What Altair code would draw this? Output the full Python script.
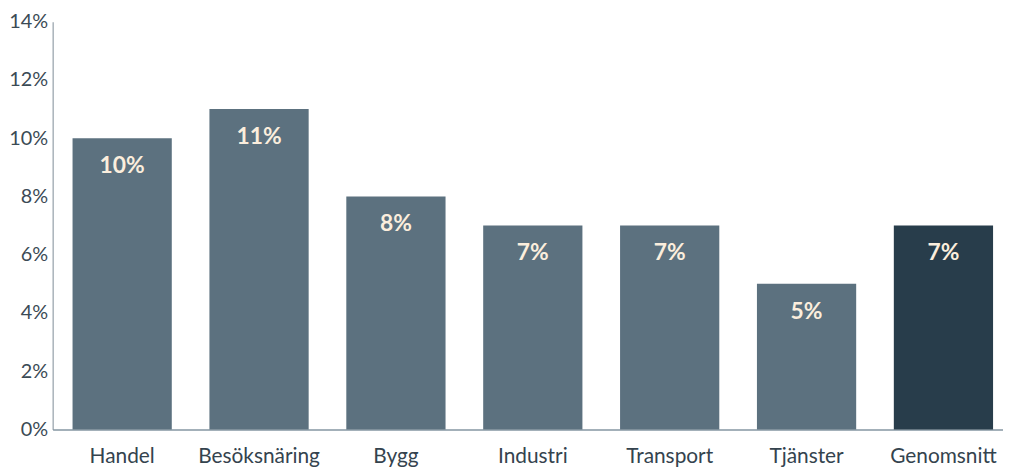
import altair as alt
import pandas as pd

categories = ["Handel", "Besöksnäring", "Bygg", "Industri", "Transport", "Tjänster", "Genomsnitt"]
values = [0.10, 0.11, 0.08, 0.07, 0.07, 0.05, 0.07]
labels = ["10%", "11%", "8%", "7%", "7%", "5%", "7%"]
groups = ["sector", "sector", "sector", "sector", "sector", "sector", "avg"]

df = pd.DataFrame({"cat": categories, "val": values, "lab": labels, "grp": groups})

base = alt.Chart(df).encode(
    x=alt.X("cat:N", sort=None, title=None,
            scale=alt.Scale(paddingInner=0.275, paddingOuter=0.109, align=0.667),
            axis=alt.Axis(labelAngle=0, ticks=False, labelPadding=16, labelFontSize=21,
                          labelColor="#34434e", labelFont="Lato", labelFontWeight=400,
                          domainColor="#a3b0b9", domainWidth=2)),
    y=alt.Y("val:Q", title=None,
            scale=alt.Scale(domain=[0, 0.14], nice=False),
            axis=alt.Axis(format=".0%", values=[0, 0.02, 0.04, 0.06, 0.08, 0.10, 0.12, 0.14],
                          grid=False, ticks=False, labelPadding=5, labelFontSize=20,
                          labelColor="#3b4a55", labelFont="Lato", labelFontWeight=400,
                          domainColor="#7d8c97", domainWidth=1)),
)

bars = base.mark_bar().encode(
    color=alt.Color("grp:N", scale=alt.Scale(domain=["sector", "avg"], range=["#5c717f", "#283d4b"]), legend=None)
)

text = base.mark_text(baseline="middle", dy=28, fontSize=23, fontWeight="bold", font="Lato",
                      color="#fbeedd").encode(text="lab:N")

chart = (bars + text).properties(
    width=958, height=411,
    autosize=alt.AutoSizeParams(type="none"),
    padding={"top": 12, "left": 45, "right": 0, "bottom": 40}
).configure_view(stroke=None)

chart.save("out.html", embed_options={"renderer": "svg", "actions": False})
